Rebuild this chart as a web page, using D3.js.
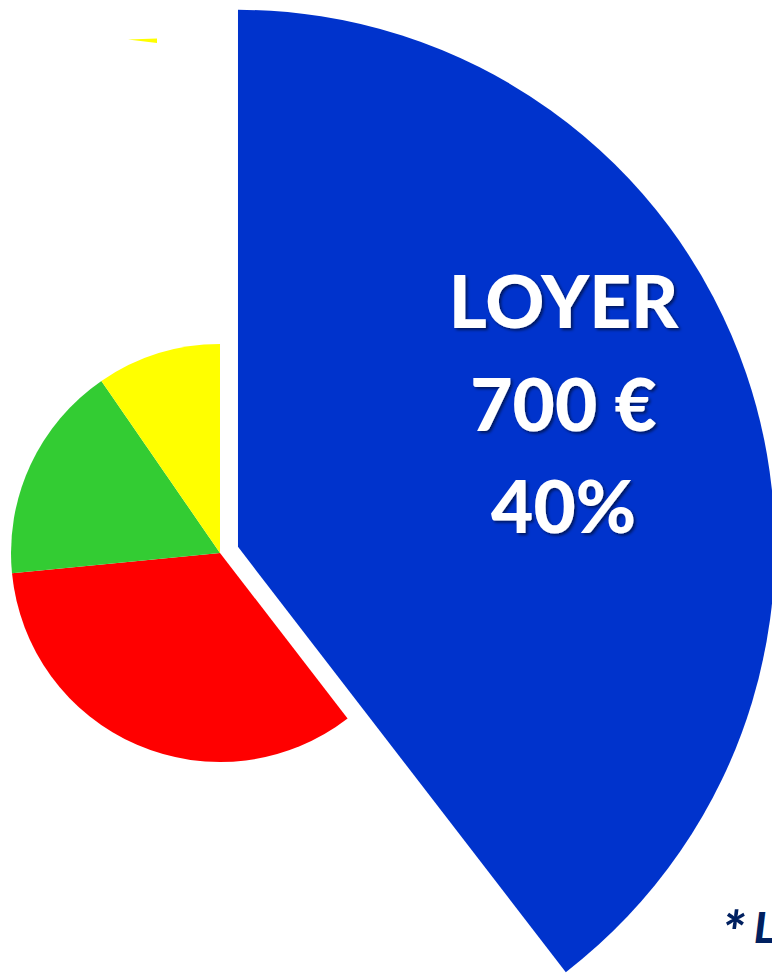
<html>
<head>
<meta charset="UTF-8">
<style>
body { margin: 0; background: #fff; }
.label text {
  font-family: Lato, "Open Sans", sans-serif;
  font-weight: 900;
  fill: #fff;
  text-anchor: middle;
}
.note {
  font-family: Lato, "Open Sans", sans-serif;
  font-weight: 900;
  font-style: italic;
  fill: #002060;
}
</style>
</head>
<body>
<svg height="973" width="772" id="container"></svg>
<script src="https://cdn.jsdelivr.net/npm/d3@7/dist/d3.min.js" charset="UTF-8"></script>
<script>
// data
var categories = ["LOYER", "Poste 2", "Poste 3", "Poste 4"];
var values = [700, 600, 300, 170];
var colors = ["#0033CC", "#FF0000", "#33CC33", "#FFFF00"];
var labelLines = ["LOYER", "700 €", "40%"];

var svg = d3.select("#container");
var cx = 220, cy = 553;          // centre du petit camembert
var radius = 209, bigRadius = 537, explode = 19;

// ombre du texte
var defs = svg.append("defs");
defs.append("filter").attr("id", "shadow")
  .attr("x", "-20%").attr("y", "-20%").attr("width", "140%").attr("height", "140%")
  .append("feDropShadow")
  .attr("dx", 2).attr("dy", 2).attr("stdDeviation", 1.5)
  .attr("flood-color", "#000").attr("flood-opacity", 0.55);

var g = svg.append("g").attr("transform", "translate(" + cx + "," + cy + ")");

var pie = d3.pie().sort(null).value(d => d);
var arcs = pie(values);

var arc = d3.arc().innerRadius(0)
  .outerRadius((d, i) => i === 0 ? bigRadius : radius);

// décalage de la part mise en avant
function offset(d, i) {
  if (i !== 0) return "translate(0,0)";
  var a = (d.startAngle + d.endAngle) / 2;
  return "translate(" + (explode * Math.sin(a)) + "," + (-explode * Math.cos(a)) + ")";
}

var slices = g.selectAll(".arc")
  .data(arcs)
  .enter()
  .append("g")
  .attr("class", "arc")
  .attr("transform", (d, i) => offset(d, i));

slices.append("path")
  .attr("d", (d, i) => arc(d, i))
  .attr("fill", (d, i) => colors[i]);

// étiquette de la part LOYER
var labelArc = d3.arc().innerRadius(344).outerRadius(344);
var first = arcs[0];
var pos = labelArc.centroid(first);
var lab = g.append("g").attr("class", "label")
  .attr("transform", offset(first, 0) + " translate(" + pos + ")")
  .attr("filter", "url(#shadow)");
lab.selectAll("text")
  .data(labelLines)
  .enter()
  .append("text")
  .attr("y", (d, i) => (i - 1) * 102.5 - 5)
  .style("font-size", "73px")
  .text(d => d);

// petit éclat jaune en haut à gauche
svg.append("path")
  .attr("d", "M128,39.5 L157,38.5 L157,43 Z")
  .attr("fill", "#FFFF00");

// note en bas à droite
var note = svg.append("text")
  .attr("class", "note")
  .attr("x", 722)
  .attr("y", 943)
  .style("font-size", "42px");
note.append("tspan").style("font-size", "58px").attr("dy", 10).text("*");
note.append("tspan").attr("dx", 9).attr("dy", -10).text("L");
</script>
</body>
</html>
